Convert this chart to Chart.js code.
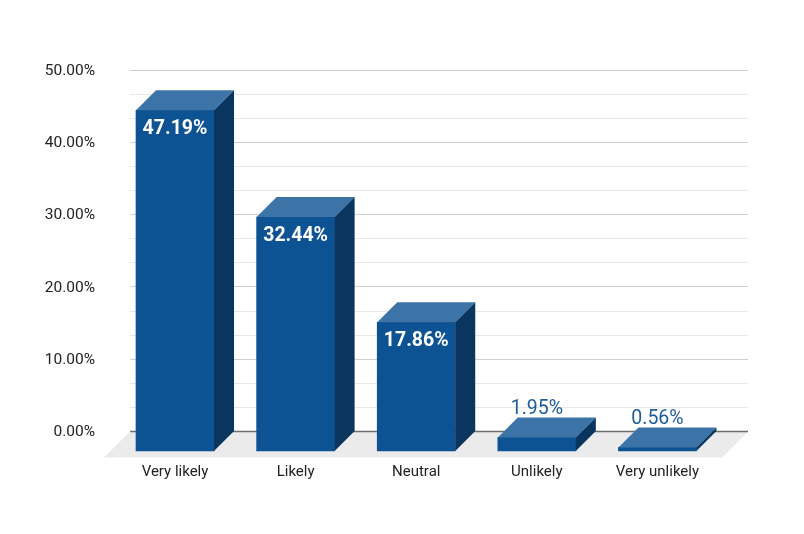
<!DOCTYPE html>
<html>
<head>
<meta charset="utf-8">
<script src="https://cdn.jsdelivr.net/npm/chart.js@4/dist/chart.umd.min.js"></script>
<style>
html,body{margin:0;padding:0;background:#fff;}
#c{display:block;}
</style>
</head>
<body>
<canvas id="c" width="804" height="534"></canvas>
<script>
const categories = ["Very likely", "Likely", "Neutral", "Unlikely", "Very unlikely"];
const values = [47.19, 32.44, 17.86, 1.95, 0.56];
const yTickLabels = ["0.00%", "10.00%", "20.00%", "30.00%", "40.00%", "50.00%"];

const DEPTH = 20;      // bar depth (px)
const FLOOR = 26;      // floor depth (px)
const FRONT = '#0d5293', TOP = '#3d74a8', SIDE = '#0a355f';

const threeD = {
  id: 'threeD',
  beforeDatasetsDraw(chart) {
    const {ctx, chartArea: a} = chart;
    const y0 = chart.scales.y.getPixelForValue(0);
    ctx.save();
    ctx.fillStyle = '#ebebeb';
    ctx.beginPath();
    ctx.moveTo(a.left, y0);
    ctx.lineTo(a.right, y0);
    ctx.lineTo(a.right - FLOOR, y0 + FLOOR);
    ctx.lineTo(a.left - FLOOR, y0 + FLOOR);
    ctx.closePath();
    ctx.fill();
    ctx.strokeStyle = '#6e6e6e';
    ctx.lineWidth = 1.5;
    ctx.beginPath();
    ctx.moveTo(a.left, y0);
    ctx.lineTo(a.right, y0);
    ctx.stroke();
    ctx.restore();
  },
  beforeDatasetDraw(chart) {
    chart.ctx.save();
    chart.ctx.translate(-DEPTH, DEPTH);
  },
  afterDatasetDraw(chart, args) {
    const ctx = chart.ctx;
    const meta = args.meta;
    meta.data.forEach(el => {
      const p = el.getProps(['x', 'y', 'base', 'width'], true);
      const l = p.x - p.width / 2, r = p.x + p.width / 2, t = p.y, b = p.base;
      ctx.fillStyle = TOP;
      ctx.beginPath();
      ctx.moveTo(l, t); ctx.lineTo(r, t); ctx.lineTo(r + DEPTH, t - DEPTH); ctx.lineTo(l + DEPTH, t - DEPTH);
      ctx.closePath(); ctx.fill();
      ctx.fillStyle = SIDE;
      ctx.beginPath();
      ctx.moveTo(r, t); ctx.lineTo(r + DEPTH, t - DEPTH); ctx.lineTo(r + DEPTH, b - DEPTH); ctx.lineTo(r, b);
      ctx.closePath(); ctx.fill();
    });
    // data labels
    meta.data.forEach((el, i) => {
      const p = el.getProps(['x', 'y'], true);
      const v = values[i];
      const txt = v.toFixed(2) + '%';
      ctx.textAlign = 'center';
      ctx.textBaseline = 'middle';
      if (v > 5) {
        ctx.font = 'bold 19.5px Roboto';
        ctx.fillStyle = '#ffffff';
        ctx.fillText(txt, p.x, p.y + 19);
      } else {
        ctx.font = '19.5px Roboto';
        ctx.fillStyle = '#1c5c9c';
        ctx.fillText(txt, p.x, p.y - DEPTH - 8);
      }
    });
    ctx.restore();
  }
};

new Chart(document.getElementById('c'), {
  type: 'bar',
  data: {
    datasets: [{
      data: categories.map((c, i) => ({x: i, y: values[i]})),
      backgroundColor: FRONT,
      borderWidth: 0,
      barThickness: 78,
      clip: false
    }]
  },
  options: {
    responsive: false,
    animation: false,
    devicePixelRatio: 1,
    layout: {padding: {left: 0, right: 56, top: 70, bottom: 0}},
    plugins: {legend: {display: false}, tooltip: {enabled: false}},
    scales: {
      x: {
        type: 'linear',
        offset: false,
        min: -0.539,
        max: 4.585,
        afterBuildTicks(s) { s.ticks = categories.map((c, i) => ({value: i})); },
        afterFit(s) { s.height = 102.5; },
        grid: {display: false, drawTicks: false, offset: false},
        border: {display: false},
        ticks: {
          callback: (v) => categories[v] ?? '',
          labelOffset: -DEPTH,
          padding: 32,
          color: '#222',
          font: {family: 'Roboto', size: 15},
          maxRotation: 0,
          autoSkip: false
        }
      },
      y: {
        min: 0,
        max: 50,
        afterBuildTicks(s) {
          const t = [];
          for (let k = 0; k <= 15; k++) t.push({value: k * 10 / 3});
          s.ticks = t;
        },
        afterFit(s) { s.width = 130; },
        grid: {
          drawTicks: false,
          color: (c) => {
            const v = c.tick ? c.tick.value : 0;
            if (Math.abs(v) < 1e-6) return 'rgba(0,0,0,0)';
            const m = Math.abs(v / 10 - Math.round(v / 10)) < 1e-6;
            return m ? '#cfcfcf' : '#e8e8e8';
          },
          lineWidth: 1
        },
        border: {display: false},
        ticks: {
          callback: (v) => {
            const k = Math.round(v / 10);
            return Math.abs(v / 10 - k) < 1e-6 ? yTickLabels[k] : '';
          },
          padding: 35,
          labelOffset: 1,
          color: '#222',
          font: {family: 'Roboto', size: 15.5}
        }
      }
    }
  },
  plugins: [threeD]
});
</script>
</body>
</html>
